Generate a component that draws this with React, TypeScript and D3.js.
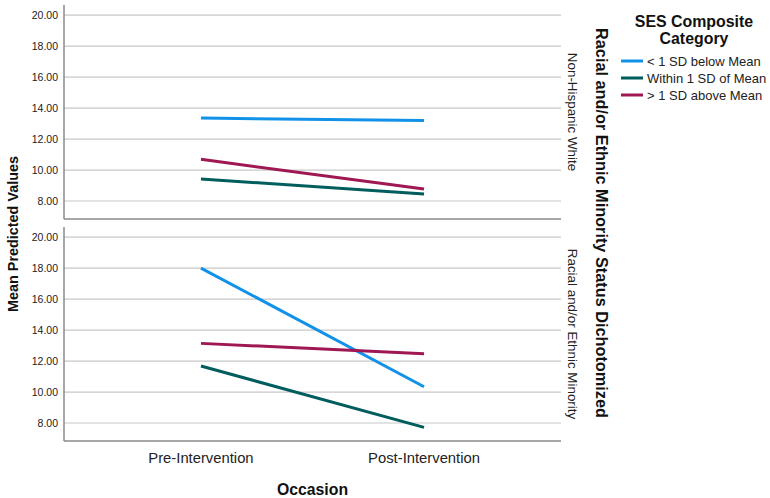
import React from "react";
import * as d3 from "d3";

const occasions = ["Pre-Intervention", "Post-Intervention"];
const panels = ["Non-Hispanic White", "Racial and/or Ethnic Minority"];
const seriesNames = ["< 1 SD below Mean", "Within 1 SD of Mean", "> 1 SD above Mean"];
const seriesColors = ["#1192e8", "#005d5d", "#9f1853"];
const yTicks = [8, 10, 12, 14, 16, 18, 20];

// values per panel, per series: [pre, post]
const whiteBelow = [13.35, 13.2];
const whiteWithin = [9.42, 8.45];
const whiteAbove = [10.69, 8.77];
const minorityBelow = [18.0, 10.34];
const minorityWithin = [11.68, 7.72];
const minorityAbove = [13.14, 12.47];

const panelData = [
  [whiteBelow, whiteWithin, whiteAbove],
  [minorityBelow, minorityWithin, minorityAbove],
];

const FONT = "'Liberation Sans', Arial, sans-serif";
const W = 770;
const H = 498;
const left = 64;
const right = 561;
const panelTops = [5, 227];
const panelH = 214;

export default function App() {
  const x = d3.scalePoint<string>().domain(occasions).range([left, right]).padding(0.614);
  const line = d3.line<[number, number]>().x((d) => d[0]).y((d) => d[1]);

  return (
    <svg width={W} height={H} style={{ position: "absolute", left: 0, top: 0, background: "#fff" }} fontFamily={FONT}>
      <rect width={W} height={H} fill="#fff" />
      {panels.map((p, pi) => {
        const top = panelTops[pi];
        const y = d3.scaleLinear().domain([6.84, 20.65]).range([top + panelH, top]);
        return (
          <g key={p}>
            {yTicks.map((t) => (
              <g key={t}>
                <line x1={left} x2={right} y1={y(t)} y2={y(t)} stroke="#c8c8c8" strokeWidth={1.2} />
                <text x={58} y={y(t)} dy="0.35em" textAnchor="end" fontSize={10.5} fill="#222">
                  {d3.format(".2f")(t)}
                </text>
              </g>
            ))}
            <line x1={left} x2={left} y1={top} y2={top + panelH} stroke="#8a8a8a" strokeWidth={1.5} />
            <line x1={left} x2={right} y1={top + panelH} y2={top + panelH} stroke="#8a8a8a" strokeWidth={1.5} />
            {panelData[pi].map((vals, si) => (
              <path
                key={si}
                d={line(occasions.map((o, oi) => [x(o) as number, y(vals[oi])])) || ""}
                fill="none"
                stroke={seriesColors[si]}
                strokeWidth={3}
              />
            ))}
            <text
              transform={`translate(${572.5},${top + panelH / 2}) rotate(90)`}
              textAnchor="middle"
              dy="0.35em"
              fontSize={13.4}
              fill="#222"
            >
              {p}
            </text>
          </g>
        );
      })}
      {occasions.map((o) => (
        <text key={o} x={x(o)} y={458} dy="0.35em" textAnchor="middle" fontSize={14.8} fill="#222">
          {o}
        </text>
      ))}
      <text x={(left + right) / 2} y={489} dy="0.35em" textAnchor="middle" fontSize={15.8} fontWeight="bold" fill="#111">
        Occasion
      </text>
      <text
        transform={`translate(13,234) rotate(-90)`}
        textAnchor="middle"
        dy="0.35em"
        fontSize={14.4}
        fontWeight="bold"
        fill="#111"
      >
        Mean Predicted Values
      </text>
      <text
        transform={`translate(602,223) rotate(90)`}
        textAnchor="middle"
        dy="0.35em"
        fontSize={16.3}
        fontWeight="bold"
        fill="#111"
      >
        Racial and/or Ethnic Minority Status Dichotomized
      </text>
      <text x={694} y={21} dy="0.35em" textAnchor="middle" fontSize={15.9} fontWeight="bold" fill="#111">
        SES Composite
      </text>
      <text x={694} y={38} dy="0.35em" textAnchor="middle" fontSize={15.9} fontWeight="bold" fill="#111">
        Category
      </text>
      {seriesNames.map((s, i) => (
        <g key={s}>
          <line x1={621} x2={643} y1={61 + i * 17} y2={61 + i * 17} stroke={seriesColors[i]} strokeWidth={3} />
          <text x={647} y={61 + i * 17} dy="0.35em" fontSize={13} fill="#222">
            {s}
          </text>
        </g>
      ))}
    </svg>
  );
}
